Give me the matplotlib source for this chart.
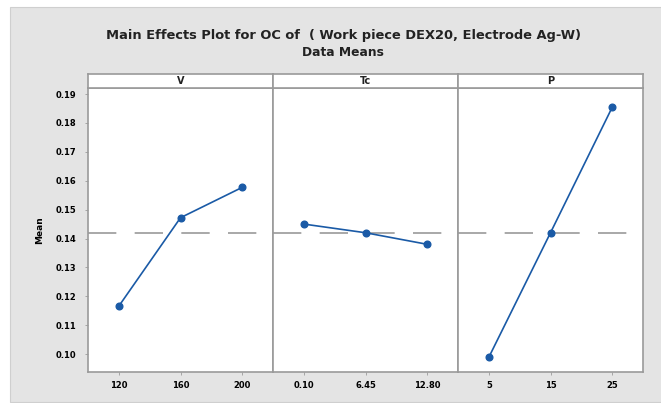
import matplotlib

matplotlib.use("Agg")
import matplotlib.pyplot as plt
from matplotlib.patches import Rectangle

# factor levels and response means
FACTORS = ["V", "Tc", "P"]
V_LEVELS = ["120", "160", "200"]
TC_LEVELS = ["0.10", "6.45", "12.80"]
P_LEVELS = ["5", "15", "25"]
V_MEANS = [0.1166, 0.1472, 0.1577]
TC_MEANS = [0.1450, 0.1420, 0.1380]
P_MEANS = [0.0989, 0.1420, 0.1854]
GRAND_MEAN = 0.1418
YTICKS = [0.10, 0.11, 0.12, 0.13, 0.14, 0.15, 0.16, 0.17, 0.18, 0.19]

BLUE = "#1a5aa6"
FRAME = "#9a9a9a"
BG = "#e4e4e4"

W, H = 661, 403
fig = plt.figure(figsize=(W / 100, H / 100), dpi=100, facecolor="white")

# grey backdrop panel
fig.patches.append(Rectangle((10 / W, 1 / H), 1, (H - 8) / H, transform=fig.transFigure,
                             facecolor=BG, edgecolor="#cfcfcf", lw=0.8, zorder=-10))

fig.text(343 / W, 1 - 35 / H,
         "Main Effects Plot for OC of  ( Work piece DEX20, Electrode Ag-W)",
         ha="center", va="center", fontsize=9.4, fontweight="semibold", color="#222222")
fig.text(343 / W, 1 - 52 / H, "Data Means", ha="center", va="center",
         fontsize=8.8, fontweight="semibold", color="#222222")

left, pw = 88 / W, 185 / W
bot, top = 1 - 372 / H, 1 - 88 / H
hdr_top = 1 - 74 / H

groups = [(V_LEVELS, V_MEANS), (TC_LEVELS, TC_MEANS), (P_LEVELS, P_MEANS)]
for i, (name, (levels, means)) in enumerate(zip(FACTORS, groups)):
    x0 = left + i * pw
    ax = fig.add_axes([x0, bot, pw, top - bot])
    ax.set_facecolor("white")
    xs = list(range(1, len(levels) + 1))
    ax.axhline(GRAND_MEAN, color="#999999", lw=1.2, dashes=(17, 11), zorder=1)
    ax.plot(xs, means, "-o", color=BLUE, lw=1.2, ms=4.8, zorder=3)
    ax.set_xlim(0.5, 3.5)
    ax.set_ylim(0.0938, 0.1921)
    ax.set_xticks(xs)
    ax.set_xticklabels(levels, fontsize=6, fontweight="bold")
    ax.tick_params(axis="x", length=2.5, width=0.6, color=FRAME, pad=4)
    if i == 0:
        ax.set_yticks(YTICKS)
        ax.set_yticklabels([f"{v:.2f}" for v in YTICKS], fontsize=6, fontweight="bold")
        ax.tick_params(axis="y", length=2.5, width=0.6, color=FRAME, pad=6)
        ax.set_ylabel("Mean", fontsize=6.5, fontweight="bold", labelpad=8)
    else:
        ax.set_yticks([])
    for s in ax.spines.values():
        s.set_color(FRAME)
        s.set_linewidth(1.2)

    hdr = fig.add_axes([x0, top, pw, hdr_top - top])
    hdr.set_facecolor("white")
    hdr.set_xticks([])
    hdr.set_yticks([])
    for s in hdr.spines.values():
        s.set_color(FRAME)
        s.set_linewidth(1.2)
    hdr.text(0.5, 0.5, name, ha="center", va="center", fontsize=7,
             fontweight="bold", color="#222222", transform=hdr.transAxes)

fig.savefig("out.png", dpi=100, facecolor="white")
